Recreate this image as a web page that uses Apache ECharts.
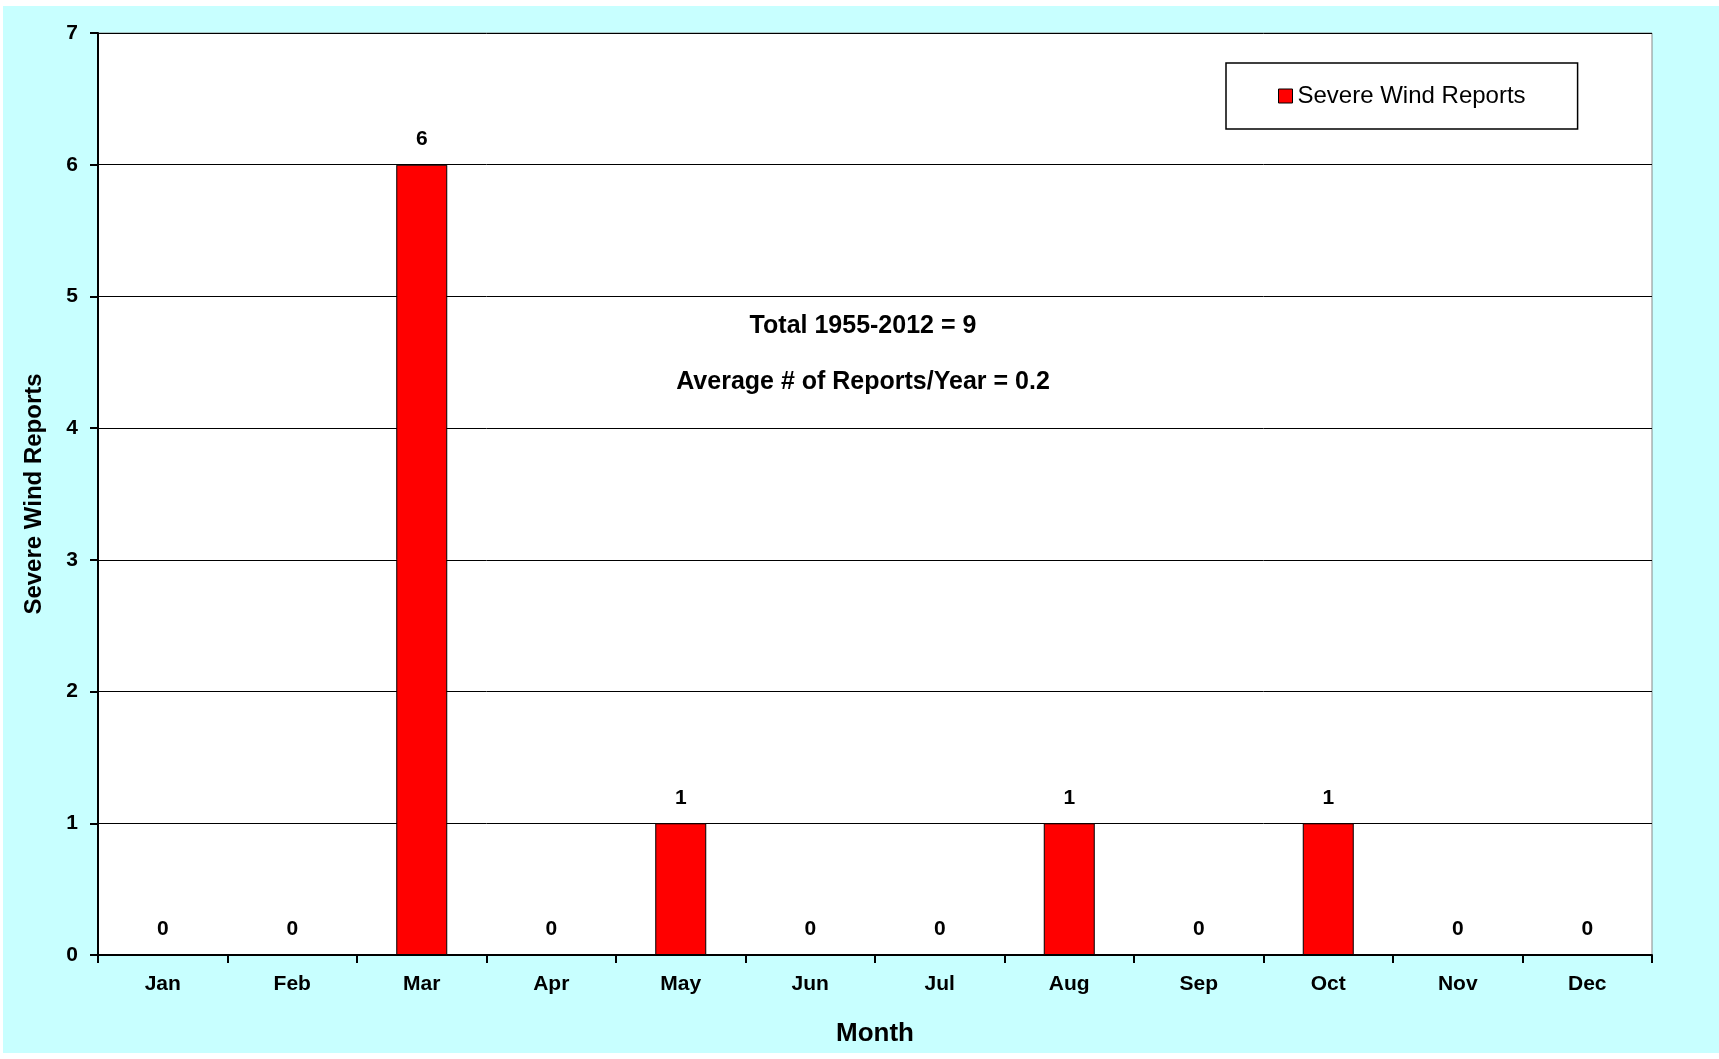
<!DOCTYPE html>
<html>
<head>
<meta charset="utf-8">
<script src="https://cdn.jsdelivr.net/npm/echarts@6/dist/echarts.min.js"></script>
<style>
  html, body { margin: 0; padding: 0; background: #fff; }
  #chart { position: absolute; left: 3px; top: 6px; width: 1716px; height: 1047px; background: #c8ffff; }
</style>
</head>
<body>
<div id="chart"></div>
<script>
// monthly counts of severe wind reports
const months = ['Jan', 'Feb', 'Mar', 'Apr', 'May', 'Jun', 'Jul', 'Aug', 'Sep', 'Oct', 'Nov', 'Dec']
const reports = [0, 0, 6, 0, 1, 0, 0, 1, 0, 1, 0, 0]
const yMin = 0
const yMax = 7
const yStep = 1
const notes = ['Total 1955-2012 = 9', 'Average # of Reports/Year = 0.2']

const font = 'Arial, "Liberation Sans", sans-serif'
const myChart = echarts.init(document.getElementById('chart'))
myChart.setOption({
  backgroundColor: 'transparent',
  animation: false,
  grid: {
    left: 95,
    top: 27,
    right: 67,
    bottom: 98,
    show: true,
    backgroundColor: '#fff',
    borderColor: '#888',
    borderWidth: 1
  },
  legend: {
    data: ['Severe Wind Reports'],
    left: 1223,
    top: 57,
    padding: [21, 52],
    orient: 'horizontal',
    borderColor: '#000',
    borderWidth: 1.5,
    backgroundColor: '#fff',
    icon: 'rect',
    itemWidth: 14,
    itemHeight: 14,
    itemGap: 5,
    itemStyle: { borderColor: '#000', borderWidth: 1 },
    textStyle: { fontFamily: font, fontSize: 24, color: '#000' }
  },
  xAxis: {
    type: 'category',
    data: months,
    name: 'Month',
    nameLocation: 'middle',
    nameGap: 66,
    nameTextStyle: { fontFamily: font, fontSize: 26, fontWeight: 'bold', color: '#000' },
    axisLine: { lineStyle: { color: '#000', width: 2 } },
    axisTick: { show: true, length: 8, lineStyle: { color: '#000', width: 2 } },
    axisLabel: { fontFamily: font, fontSize: 21, fontWeight: 'bold', color: '#000', margin: 19 },
    splitLine: { show: false }
  },
  yAxis: {
    type: 'value',
    min: yMin,
    max: yMax,
    interval: yStep,
    name: 'Severe Wind Reports',
    nameLocation: 'middle',
    nameGap: 52,
    nameTextStyle: { fontFamily: font, fontSize: 24, fontWeight: 'bold', color: '#000' },
    axisLine: { show: true, lineStyle: { color: '#000', width: 2 } },
    axisTick: { show: true, length: 8, lineStyle: { color: '#000', width: 2 } },
    axisLabel: { fontFamily: font, fontSize: 21, fontWeight: 'bold', color: '#000', margin: 20 },
    splitLine: { lineStyle: { color: '#000', width: 1 } }
  },
  series: [
    {
      name: 'Severe Wind Reports',
      type: 'bar',
      data: reports,
      barWidth: 51,
      itemStyle: { color: '#ff0000', borderColor: '#000', borderWidth: 1 },
      label: {
        show: true,
        position: 'top',
        distance: 15,
        fontFamily: font,
        fontSize: 21,
        fontWeight: 'bold',
        color: '#000'
      }
    }
  ],
  graphic: notes.map((t, i) => ({
    type: 'text',
    x: 860,
    y: 320 + i * 56,
    style: {
      text: t,
      fontFamily: font,
      fontSize: 25,
      fontWeight: 'bold',
      fill: '#000',
      textAlign: 'center',
      textVerticalAlign: 'middle'
    }
  }))
})
</script>
</body>
</html>
